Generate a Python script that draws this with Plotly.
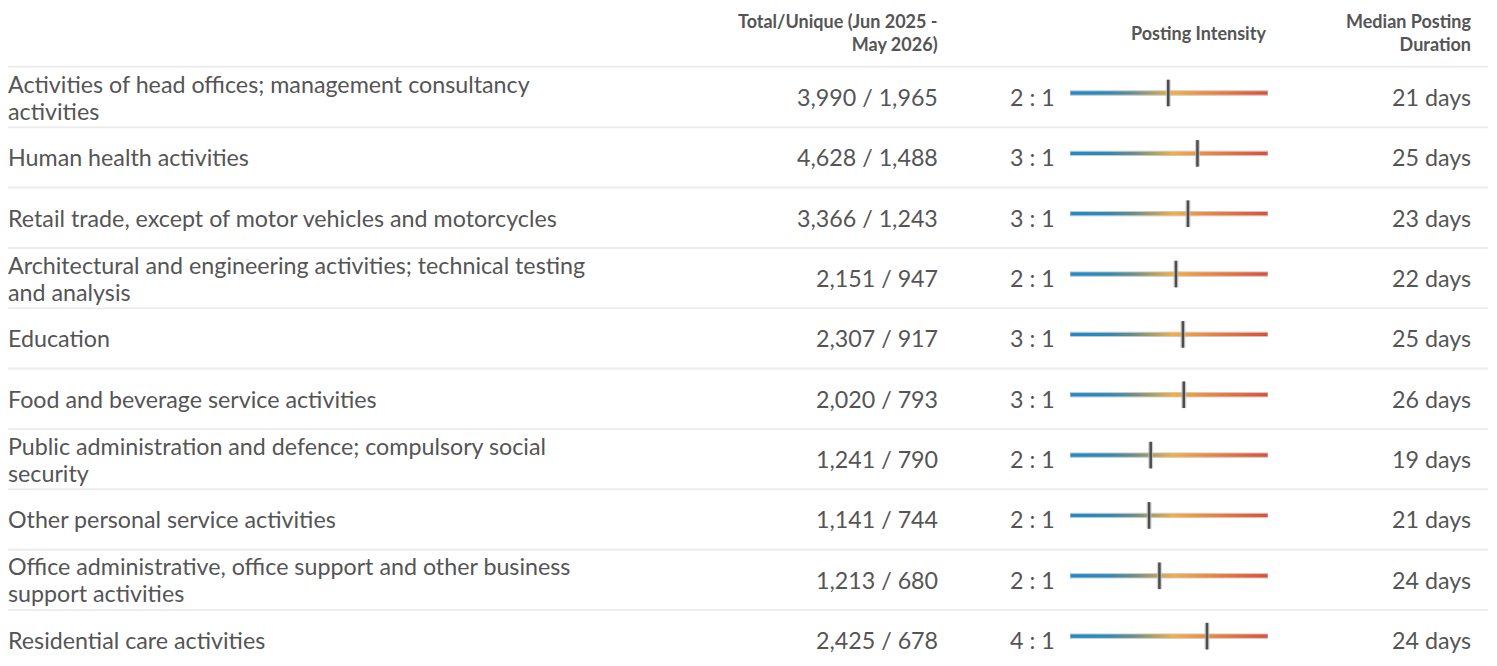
import math
import plotly.graph_objects as go

# target window size and the browser's default 8px page margin
WIN_W, WIN_H = 1497, 666
OFF = 8
W, H = WIN_W - OFF, WIN_H - OFF

industries = [
    ["Activities of head offices; management consultancy", "activities"],
    ["Human health activities"],
    ["Retail trade, except of motor vehicles and motorcycles"],
    ["Architectural and engineering activities; technical testing", "and analysis"],
    ["Education"],
    ["Food and beverage service activities"],
    ["Public administration and defence; compulsory social", "security"],
    ["Other personal service activities"],
    ["Office administrative, office support and other business", "support activities"],
    ["Residential care activities"],
]
total_postings = [3990, 4628, 3366, 2151, 2307, 2020, 1241, 1141, 1213, 2425]
unique_postings = [1965, 1488, 1243, 947, 917, 793, 790, 744, 680, 678]
median_duration_days = [21, 25, 23, 22, 25, 26, 19, 21, 24, 24]

headers = ["Total/Unique (Jun 2025 -<br>May 2026)", "Posting Intensity", "Median Posting<br>Duration"]

intensity = [t / u for t, u in zip(total_postings, unique_postings)]

# intensity scale (log) range
INT_MIN, INT_MAX = 0.483, 8.72

TEXT = "#555555"
FONT = "Lato"
BODY = 23.25
HEAD = 18

gradient = [[0, '#1b8bd0'], [0.2, '#2f8ab5'], [0.32, '#6a8e8c'], [0.43, '#b3a25c'],
            [0.52, '#f7ae3d'], [0.68, '#f08a3c'], [1, '#e04c38']]

n = len(industries)
ROW_H = 60.35
ROW0 = 97 - OFF  # pixel centre of first row in figure coords
BAR_LIFT = 4     # intensity bars sit slightly above the text centre

fig = go.Figure()

h = 0.036
for i in range(n):
    fig.add_trace(go.Scatter(
        x=[INT_MIN, INT_MAX, INT_MAX, INT_MIN, INT_MIN],
        y=[i - h, i - h, i + h, i + h, i - h],
        mode="lines", fill="toself",
        fillgradient=dict(type="horizontal", colorscale=gradient),
        line=dict(color="#c9c9c9", width=1),
        hoverinfo="skip", showlegend=False, yaxis="y2",
    ))

ys = list(range(n))
fig.add_trace(go.Scatter(
    x=intensity, y=ys, mode="markers",
    marker=dict(symbol="line-ns", size=19, line=dict(color="rgba(190,190,190,0.7)", width=5)),
    hoverinfo="skip", showlegend=False, yaxis="y2",
))
fig.add_trace(go.Scatter(
    x=intensity, y=ys, mode="markers",
    marker=dict(symbol="line-ns", size=19, line=dict(color="#4d4d4d", width=2.5)),
    hoverinfo="skip", showlegend=False, yaxis="y2",
))


def px(x):
    return (x - OFF) / W


def py(y):
    return 1 - (y - OFF) / H


annotations = []
for i in range(n):
    lines = industries[i]
    k = len(lines)
    for j, line in enumerate(lines):
        dy = (j - (k - 1) / 2) * 27.0 / ROW_H
        annotations.append(dict(x=px(6), y=i + dy, xref="paper", yref="y", text=line,
                                xanchor="left", yanchor="middle", align="left", showarrow=False,
                                font=dict(family=FONT, size=BODY, color=TEXT)))
    annotations.append(dict(x=px(940), y=i, xref="paper", yref="y",
                            text=f"{total_postings[i]:,} / {unique_postings[i]:,}",
                            xanchor="right", yanchor="middle", showarrow=False,
                            font=dict(family=FONT, size=BODY, color=TEXT)))
    annotations.append(dict(x=px(1057), y=i, xref="paper", yref="y",
                            text=f"{round(intensity[i])} : 1",
                            xanchor="right", yanchor="middle", showarrow=False,
                            font=dict(family=FONT, size=BODY, color=TEXT)))
    annotations.append(dict(x=px(1473), y=i, xref="paper", yref="y",
                            text=f"{median_duration_days[i]} days",
                            xanchor="right", yanchor="middle", showarrow=False,
                            font=dict(family=FONT, size=BODY, color=TEXT)))

for xpos, txt in zip([940, 1268, 1473], headers):
    annotations.append(dict(x=px(xpos), y=py(32.5), xref="paper", yref="paper", text=f"<b>{txt}</b>",
                            xanchor="right", yanchor="middle", align="right", showarrow=False,
                            font=dict(family=FONT, size=HEAD, color=TEXT)))

shapes = []
for i in range(n):
    shapes.append(dict(type="line", xref="paper", yref="y", x0=px(7), x1=px(1488),
                       y0=i - 0.5, y1=i - 0.5, line=dict(color="#ececec", width=2), layer="below"))

top = -ROW0 / ROW_H
bottom = (H - ROW0) / ROW_H
lift = BAR_LIFT / ROW_H

fig.update_layout(
    width=W, height=H,
    margin=dict(l=0, r=0, t=0, b=0),
    paper_bgcolor="white", plot_bgcolor="white",
    xaxis=dict(type="log", range=[math.log10(INT_MIN), math.log10(INT_MAX)],
               domain=[px(1070), px(1268)], visible=False, fixedrange=True),
    yaxis=dict(range=[bottom, top], domain=[0, 1], visible=False, fixedrange=True),
    yaxis2=dict(range=[bottom + lift, top + lift], domain=[0, 1], overlaying="y",
                visible=False, fixedrange=True),
    annotations=annotations, shapes=shapes,
    showlegend=False,
)

fig.write_html("out.html")
